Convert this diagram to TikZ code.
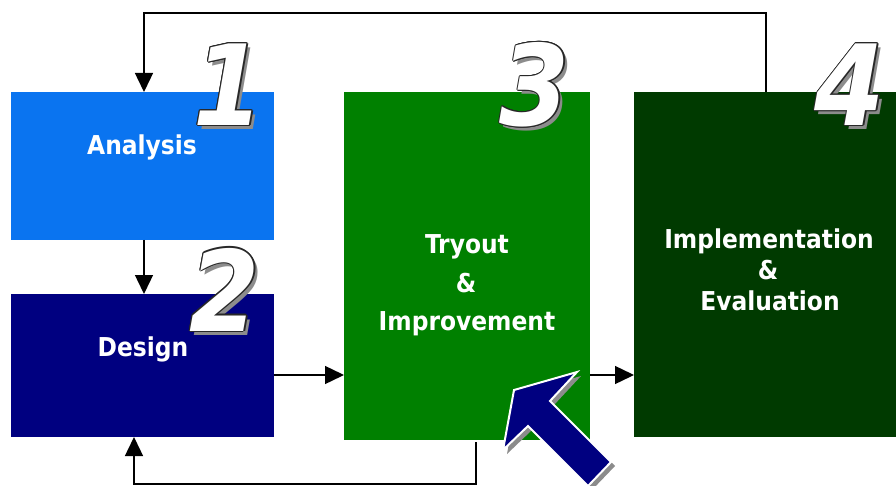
\documentclass[tikz,border=0pt]{standalone}
\usepackage{fontspec}
\setmainfont{DejaVu Sans}
\newfontfamily\labfont{DejaVu Sans Condensed Bold}
\newfontfamily\numfont{DejaVu Sans Condensed Bold Oblique}
\usepackage{contour}
\contourlength{1.1pt}
\contournumber{12}
\usetikzlibrary{arrows.meta}
\definecolor{anablue}{RGB}{10,116,240}
\definecolor{desnavy}{RGB}{0,0,128}
\definecolor{trygreen}{RGB}{0,128,0}
\definecolor{impgreen}{RGB}{0,58,0}
\definecolor{shadowgray}{RGB}{140,140,140}
\definecolor{outlinegray}{RGB}{40,40,40}
\begin{document}
\begin{tikzpicture}[x=1pt,y=-1pt,
  stagebox/.style={draw=none,inner sep=0pt,outer sep=0pt},
  lab/.style={text=white,font=\labfont\fontsize{26}{26}\selectfont,anchor=base,inner sep=0pt},
  conn/.style={line width=1.4pt,-{Triangle[length=19pt,width=18pt]}},
  numtxt/.style={font=\numfont\fontsize{112}{112}\selectfont,inner sep=0pt,text=white},
  numshadow/.style={font=\numfont\fontsize{112}{112}\selectfont,inner sep=0pt,text=shadowgray}
]
\useasboundingbox (0,0) rectangle (896,486);
\fill[white] (0,0) rectangle (896,486);

% stage boxes
\node[stagebox,fill=anablue,minimum width=263pt,minimum height=148pt] (analysis) at (142.5,166) {};
\node[stagebox,fill=desnavy,minimum width=263pt,minimum height=143pt] (design) at (142.5,365.5) {};
\node[stagebox,fill=trygreen,minimum width=246pt,minimum height=348pt] (tryout) at (467,266) {};
\node[stagebox,fill=impgreen,minimum width=262pt,minimum height=345pt] (impl) at (765,264.5) {};

% labels
\node[lab] (labA) at (142,155) {Analysis};
\node[lab] (labD) at (143,356) {Design};
\node[lab] (labT1) at (467,254) {Tryout};
\node[lab] (labT2) at (466,292) {\&};
\node[lab] (labT3) at (467,330) {Improvement};
\node[lab] (labI1) at (769,249) {Implementation};
\node[lab] (labI2) at (768,279) {\&};
\node[lab] (labI3) at (770,310) {Evaluation};

% connectors
\draw[conn] ([xshift=1.5pt]analysis.south) -- ([xshift=1.5pt]design.north);
\draw[conn] ([yshift=-9.5pt]design.east) -- ([yshift=-9.5pt]design.east -| tryout.west);
\draw[conn] ([yshift=-109pt]tryout.east) -- ([yshift=-109pt]tryout.east -| impl.west);
\draw[conn] ([xshift=1pt]impl.north) -- ++(0,-79) -| ([xshift=1.5pt]analysis.north);
\draw[conn] ([xshift=9pt,yshift=-2pt]tryout.south) -- ++(0,42) -| ([xshift=-8.5pt]design.south);

% big arrow
\fill[shadowgray] (518,394) -- (581,376) -- (554,405) -- (615,466) -- (592,490) -- (532,430) -- (507,454) -- cycle;
\filldraw[fill=desnavy,draw=white,line width=2pt,line join=miter] (514,390) -- (577,372) -- (550,401) -- (611,462) -- (588,486) -- (528,426) -- (503,450) -- cycle;

% numbers
\node[numshadow] (n1s) at (233,89) {1};
\node[numtxt] (n1) at (229,85) {\contour{outlinegray}{1}};
\node[numshadow] (n2s) at (229,294) {2};
\node[numtxt] (n2) at (225,290) {\contour{outlinegray}{2}};
\node[numshadow] (n3s) at (539,89) {3};
\node[numtxt] (n3) at (535,85) {\contour{outlinegray}{3}};
\node[numshadow] (n4s) at (854,89) {4};
\node[numtxt] (n4) at (850,85) {\contour{outlinegray}{4}};
\end{tikzpicture}
\end{document}
